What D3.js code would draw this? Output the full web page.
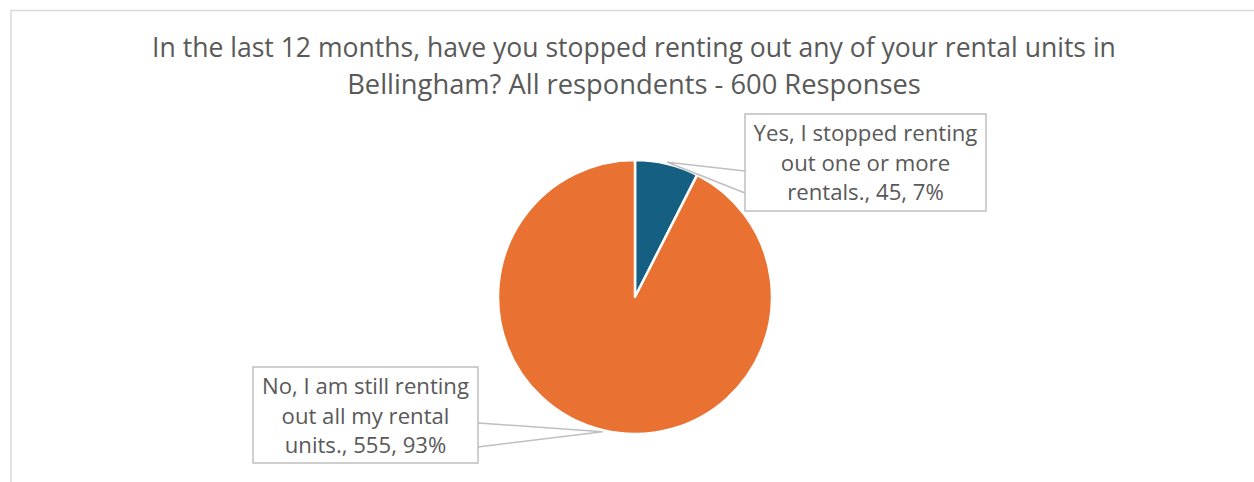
<!DOCTYPE html>
<html><head><meta charset="utf-8">
<script src="https://cdn.jsdelivr.net/npm/d3@7"></script>
<style>html,body{margin:0;padding:0;background:#fff;overflow:hidden}</style>
</head><body>
<svg id="c" width="1254" height="482"></svg>
<script>
const categories = ["Yes, I stopped renting out one or more rentals.", "No, I am still renting out all my rental units."];
const values = [45, 555];
const percents = ["7%", "93%"];
const labelLines = [
  ["Yes, I stopped renting", "out one or more", "rentals., 45, 7%"],
  ["No, I am still renting", "out all my rental", "units., 555, 93%"]
];
const colors = ["#156082", "#E97132"];
const titleLines = ["In the last 12 months, have you stopped renting out any of your rental units in", "Bellingham? All respondents - 600 Responses"];

const svg = d3.select("#c");
const FONT = "Open Sans, Lato, sans-serif";
const textColor = "#595959";

// chart border
svg.append("rect").attr("x", 11).attr("y", 10.5).attr("width", 1400).attr("height", 600)
  .attr("fill", "#fff").attr("stroke", "#d9d9d9").attr("stroke-width", 1.5);

// fit a text element to a target width by scaling font size
function fitWidth(sel, target) {
  const w = sel.node().getComputedTextLength();
  const fs = parseFloat(sel.style("font-size"));
  sel.style("font-size", (fs * target / w) + "px");
}

// title
const titleWidths = [964, 574];
titleLines.forEach((t, i) => {
  const el = svg.append("text").attr("text-anchor", "middle").attr("fill", textColor)
    .style("font-family", FONT).style("font-size", "24px")
    .attr("x", 634).attr("y", 57 + i * 37).text(t);
  fitWidth(el, titleWidths[i]);
});

const cx = 635, cy = 297, R = 137;
const pie = d3.pie().sort(null).value(d => d)(values);
const arc = d3.arc().innerRadius(0).outerRadius(R);
const g = svg.append("g").attr("transform", `translate(${cx},${cy})`);
g.selectAll("path").data(pie).join("path")
  .attr("d", arc).attr("fill", (d, i) => colors[i])
  .attr("stroke", "#fff").attr("stroke-width", 2.5).attr("stroke-linejoin", "round");

// callouts
const boxes = [
  {x: 745, y: 114, w: 241, h: 97, side: "left", p1: 171, p2: 193, w0: 224},
  {x: 253, y: 367, w: 225, h: 96, side: "right", p1: 423, p2: 447, w0: 207}
];
function tipFor(i) {
  const d = pie[i];
  const a = (d.startAngle + d.endAngle) / 2;
  const r = R * 1.012;
  return [cx + r * Math.sin(a), cy - r * Math.cos(a)];
}
boxes.forEach((b, i) => {
  const tip = tipFor(i);
  const ex = b.side === "left" ? b.x : b.x + b.w;
  const cg = svg.append("g");
  cg.append("path")
    .attr("d", `M${ex},${b.p1} L${tip[0]},${tip[1]} L${ex},${b.p2}`)
    .attr("fill", "none").attr("stroke", "#bfbfbf").attr("stroke-width", 1.5);
  cg.append("rect").attr("x", b.x).attr("y", b.y).attr("width", b.w).attr("height", b.h)
    .attr("fill", "#fff").attr("stroke", "#bfbfbf").attr("stroke-width", 1.5);
  const t = cg.append("text").attr("text-anchor", "middle").attr("fill", textColor)
    .style("font-family", FONT).style("font-size", "20px");
  labelLines[i].forEach((l, j) => t.append("tspan").attr("x", b.x + b.w / 2).attr("y", b.y + 27 + j * 29.5).text(l));
  const first = t.select("tspan").node().getComputedTextLength();
  t.style("font-size", (20 * b.w0 / first) + "px");
});
</script>
</body></html>
